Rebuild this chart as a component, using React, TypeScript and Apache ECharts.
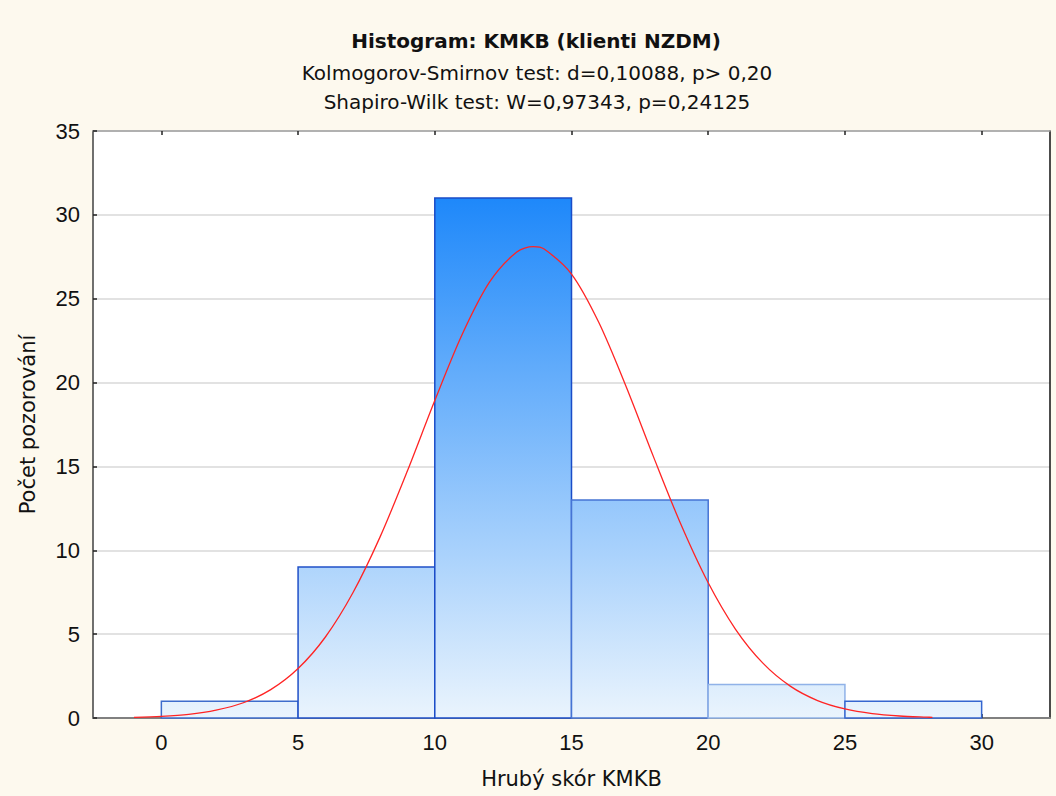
import React, { useEffect, useRef } from "react";
import * as echarts from "echarts";

const binStarts = [0, 5, 10, 15, 20, 25];
const binWidth = 5;
const counts = [1, 9, 31, 13, 2, 1];
const binBorders = ["#3d6ccc", "#2050c8", "#1a4cc8", "#4674d4", "#90b2e8", "#3566d0"];
const xTicks = [0, 5, 10, 15, 20, 25, 30];
const curveX = [-1, 0, 1, 2, 3, 4, 5, 6, 7, 8, 9, 10, 11, 12, 13, 13.6, 14, 15, 16, 17, 18, 19, 20, 21, 22, 23, 24, 25, 26, 27, 28, 28.2];
const curveY = [0.04, 0.1, 0.22, 0.47, 0.91, 1.69, 2.95, 4.83, 7.45, 10.8, 14.74, 18.93, 22.87, 25.99, 27.79, 28.1, 27.96, 26.47, 23.58, 19.75, 15.57, 11.55, 8.06, 5.29, 3.27, 1.9, 1.04, 0.54, 0.26, 0.12, 0.05, 0.04];

const titleText = "Histogram: KMKB (klienti NZDM)";
const subtitle1 = "Kolmogorov-Smirnov test: d=0,10088, p> 0,20";
const subtitle2 = "Shapiro-Wilk test: W=0,97343, p=0,24125";

export default function App() {
  const ref = useRef<HTMLDivElement>(null);
  useEffect(() => {
    if (!ref.current) return;
    const chart = echarts.init(ref.current, null, { renderer: "svg" });
    const maxCount = Math.max(...counts);
    const font = "'DejaVu Sans', Verdana, sans-serif";
    const numFont = "'Liberation Sans', Arial, sans-serif";
    chart.setOption({
      animation: false,
      backgroundColor: "#fdf9ee",
      graphic: [
        { type: "text", x: 536, y: 41, style: { text: titleText, font: `bold 20px ${font}`, fill: "#111", textAlign: "center", textVerticalAlign: "middle" } },
        { type: "text", x: 537, y: 73, style: { text: subtitle1, font: `20px ${font}`, fill: "#111", textAlign: "center", textVerticalAlign: "middle" } },
        { type: "text", x: 537, y: 102, style: { text: subtitle2, font: `20px ${font}`, fill: "#111", textAlign: "center", textVerticalAlign: "middle" } },
      ],
      grid: { left: 93, top: 131, right: 6, bottom: 78, show: true, backgroundColor: "#ffffff", borderWidth: 0 },
      xAxis: [
        {
          type: "value", min: -2.5, max: 32.5, position: "bottom",
          name: "Hrubý skór KMKB", nameLocation: "middle", nameGap: 50,
          nameTextStyle: { fontFamily: font, fontSize: 21, color: "#111" },
          axisLine: { show: true, onZero: false, lineStyle: { color: "#808080", width: 2 } },
          axisTick: { show: true, inside: true, length: 4, lineStyle: { color: "#222", width: 1.5 }, customValues: xTicks },
          axisLabel: { show: true, margin: 13, fontFamily: numFont, fontSize: 22, color: "#111", customValues: xTicks },
          splitLine: { show: false },
        },
        {
          type: "value", min: -2.5, max: 32.5, position: "top",
          axisLine: { show: true, onZero: false, lineStyle: { color: "#a0a0a0", width: 1.5 } },
          axisTick: { show: true, inside: true, length: 4, lineStyle: { color: "#222", width: 1.5 }, customValues: xTicks },
          axisLabel: { show: false },
          splitLine: { show: false },
        },
      ],
      yAxis: [
        {
          type: "value", min: 0, max: 35, interval: 5, position: "left",
          name: "Počet pozorování", nameLocation: "middle", nameGap: 55,
          nameTextStyle: { fontFamily: font, fontSize: 21, color: "#111" },
          axisLine: { show: true, onZero: false, lineStyle: { color: "#404040", width: 1.5 } },
          axisTick: { show: true, inside: true, length: 4, lineStyle: { color: "#222", width: 1.5 } },
          axisLabel: { margin: 13, fontFamily: numFont, fontSize: 22, color: "#111" },
          splitLine: { show: true, lineStyle: { color: "#d8d8d8", width: 1.5 } },
        },
        {
          type: "value", min: 0, max: 35, interval: 5, position: "right",
          axisLine: { show: true, onZero: false, lineStyle: { color: "#111", width: 1.5 } },
          axisTick: { show: false },
          axisLabel: { show: false },
          splitLine: { show: false },
        },
      ],
      series: [
        {
          type: "custom",
          xAxisIndex: 0, yAxisIndex: 0,
          data: binStarts.map((s, i) => [s, s + binWidth, counts[i], i]),
          renderItem: (params: any, api: any) => {
            const x0 = api.value(0), x1 = api.value(1), v = api.value(2), idx = api.value(3);
            const p0 = api.coord([x0, v]);
            const p1 = api.coord([x1, 0]);
            const gTop = api.coord([0, maxCount])[1];
            const gBot = api.coord([0, 0])[1];
            return {
              type: "rect",
              shape: { x: p0[0], y: p0[1], width: p1[0] - p0[0], height: p1[1] - p0[1] },
              style: {
                fill: {
                  type: "linear", x: 0, y: gTop, x2: 0, y2: gBot, global: true,
                  colorStops: [
                    { offset: 0, color: "#1e88fa" },
                    { offset: 1, color: "#eaf4fd" },
                  ],
                },
                stroke: binBorders[idx],
                lineWidth: 1.5,
              },
            };
          },
          z: 2,
        },
        {
          type: "line",
          xAxisIndex: 0, yAxisIndex: 0,
          data: curveX.map((x, i) => [x, curveY[i]]),
          smooth: 0.3,
          showSymbol: false,
          lineStyle: { color: "#ff2424", width: 1.3 },
          z: 3,
        },
      ],
    });
    return () => chart.dispose();
  }, []);
  return <div ref={ref} style={{ position: "fixed", left: 0, top: 0, width: 1056, height: 796 }} />;
}
